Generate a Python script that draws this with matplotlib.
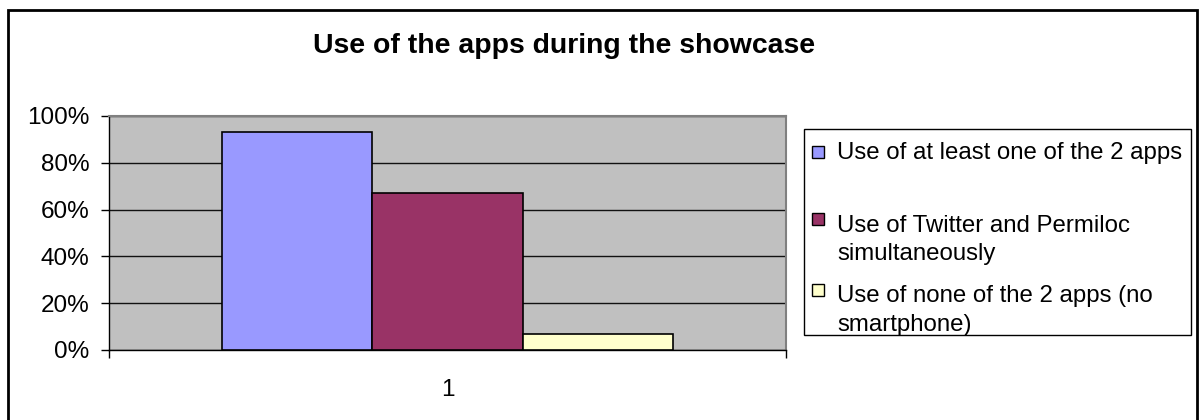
import matplotlib.pyplot as plt
from matplotlib.patches import Rectangle
from matplotlib.ticker import FuncFormatter

plt.rcParams['font.family'] = ['Liberation Sans', 'DejaVu Sans']

# data
series = ['Use of at least one of the 2 apps',
          'Use of Twitter and Permiloc\nsimultaneously',
          'Use of none of the 2 apps (no\nsmartphone)']
values = [0.93, 0.67, 0.07]
colors = ['#9999FF', '#993366', '#FFFFCC']
category = [1]

W, H = 1201, 420
fig = plt.figure(figsize=(W / 100, H / 100), dpi=100)

def fx(px):
    return px / W

def fy(py):
    return 1 - py / H

ax = fig.add_axes([fx(109), fy(350), fx(786) - fx(109), fy(116) - fy(350)])
ax.set_facecolor('#C0C0C0')

bw = 1 / 4.5
for i, (v, c) in enumerate(zip(values, colors)):
    ax.bar(category[0] + (i - 1) * bw, v, width=bw, color=c,
           edgecolor='black', linewidth=1.2, zorder=3)

ax.set_xlim(0.5, 1.5)
ax.set_ylim(0, 1)
ax.set_yticks([0, 0.2, 0.4, 0.6, 0.8, 1.0])
ax.yaxis.set_major_formatter(FuncFormatter(lambda y, p: f'{y:.0%}'))
ax.grid(axis='y', color='#111111', linewidth=1.0, zorder=1)
ax.set_xticks(category)
ax.set_xticklabels([str(c) for c in category])
ax.set_xticks([0.5, 1.5], minor=True)
ax.tick_params(axis='x', which='major', length=0, pad=21, labelsize=17.5)
ax.tick_params(axis='x', which='minor', length=6, direction='out', width=1)
ax.tick_params(axis='y', length=6, pad=8, labelsize=17.5, width=1)

for s in ['top', 'right']:
    ax.spines[s].set_color('#808080')
    ax.spines[s].set_linewidth(1.5)
for s in ['left', 'bottom']:
    ax.spines[s].set_color('black')
    ax.spines[s].set_linewidth(1.0)

# title
fig.text(fx(564), fy(53), 'Use of the apps during the showcase',
         ha='center', va='baseline', fontsize=20.4, fontweight='bold')

# legend, drawn like the Excel box
fig.patches.append(Rectangle((fx(804), fy(335)), fx(1191) - fx(804), fy(129) - fy(335),
                             transform=fig.transFigure, facecolor='white',
                             edgecolor='black', linewidth=1.0))
handle_y = [151.5, 218.5, 289.5]
baselines = [[159], [232, 260], [302, 331]]
for lab, c, hy, bl in zip(series, colors, handle_y, baselines):
    fig.patches.append(Rectangle((fx(812), fy(hy + 6)), fx(12), 12 / H,
                                 transform=fig.transFigure, facecolor=c,
                                 edgecolor='black', linewidth=1.0))
    for line, b in zip(lab.split('\n'), bl):
        fig.text(fx(837), fy(b), line, ha='left', va='baseline', fontsize=17.3)

# chart outer border
fig.patches.append(Rectangle((fx(8), fy(430)), fx(1197) - fx(8), fy(10) - fy(430),
                             transform=fig.transFigure, facecolor='none',
                             edgecolor='black', linewidth=2.0, clip_on=False))

fig.savefig('out.png', dpi=100)
